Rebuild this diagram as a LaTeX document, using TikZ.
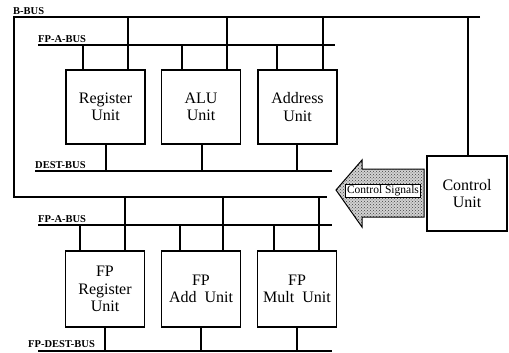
\documentclass[tikz,border=0pt]{standalone}
\usepackage{fontspec}
\setmainfont{Liberation Serif}
\usetikzlibrary{patterns}
\begin{document}
\begin{tikzpicture}[x=1pt,y=-1pt,
  bus/.style={line width=1.8pt},
  wire/.style={line width=1.5pt},
  unit/.style={draw,line width=1.2pt,minimum width=79pt,minimum height=74pt,align=center,inner sep=0pt,font=\fontsize{16}{17.5}\selectfont},
  buslabel/.style={font=\bfseries\fontsize{10.5}{11}\selectfont,anchor=base west,inner sep=0pt}]
\useasboundingbox (0,0) rectangle (509,353);
% units
\node[unit] (reg) at (105.5,107) {Register\\Unit};
\node[unit] (alu) at (201,107) {ALU\\Unit};
\node[unit] (addr) at (297.5,107) {Address\\Unit};
\node[unit,minimum height=76pt] (fpreg) at (105,289) {FP\\Register\\Unit};
\node[unit,minimum height=76pt] (fpadd) at (201,289) {FP\\Add\ \ Unit};
\node[unit,minimum height=76pt] (fpmult) at (297,289) {FP\\Mult\ \ Unit};
\node[unit,minimum width=80pt,minimum height=75pt] (ctrl) at (467,193.5) {Control\\Unit};
% B-BUS loop
\coordinate (bR) at (480,17);
\coordinate (bTL) at (14,17);
\coordinate (bBL) at (14,197);
\coordinate (bBR) at (327,197);
\draw[bus] (bR) -- (bTL) -- (bBL) -- (bBR);
\node[buslabel] (lb) at (13,14.5) {B-BUS};
\foreach \x/\n in {128/reg,227/alu,323/addr,468/ctrl}
  \draw[wire] (\x,17) -- (\x,17 |- \n.north);
\foreach \x/\n in {125/fpreg,223/fpadd,319/fpmult}
  \draw[wire] (\x,197) -- (\x,197 |- \n.north);
% FP-A-BUS (top)
\coordinate (faL) at (38,45);
\coordinate (faR) at (335,45);
\draw[bus] (faL) -- (faR);
\node[buslabel] (lfa) at (38,42.5) {FP-A-BUS};
\foreach \x/\n in {83/reg,182/alu,277/addr}
  \draw[wire] (\x,45) -- (\x,45 |- \n.north);
% DEST-BUS
\coordinate (dL) at (35,171);
\coordinate (dR) at (332,171);
\draw[bus] (dL) -- (dR);
\node[buslabel] (ld) at (35,168.5) {DEST-BUS};
\foreach \x/\n in {106/reg,202/alu,297/addr}
  \draw[wire] (\x,171) -- (\x,171 |- \n.south);
% FP-A-BUS (bottom)
\coordinate (fbL) at (38,225);
\coordinate (fbR) at (332,225);
\draw[bus] (fbL) -- (fbR);
\node[buslabel] (lfb) at (38,222.5) {FP-A-BUS};
\foreach \x/\n in {80/fpreg,180/fpadd,274/fpmult}
  \draw[wire] (\x,225) -- (\x,225 |- \n.north);
% FP-DEST-BUS
\coordinate (fdL) at (38,351);
\coordinate (fdR) at (332,351);
\draw[bus] (fdL) -- (fdR);
\node[buslabel] (lfd) at (28,347.5) {FP-DEST-BUS};
\foreach \x/\n in {105/fpreg,201/fpadd,297/fpmult}
  \draw[wire] (\x,351) -- (\x,351 |- \n.south);
% control signals arrow
\def\arrowpath{(336,190) -- (362,160) -- (362,169) -- (424,169) -- (424,217) -- (362,217) -- (362,227) -- cycle}
\fill[gray!35] \arrowpath;
\fill[pattern=crosshatch dots,pattern color=black!75] \arrowpath;
\draw[line width=1pt,line join=miter] \arrowpath;
\node[draw,fill=white,line width=0.8pt,inner sep=1.2pt,font=\fontsize{11.5}{12}\selectfont] (sig) at (383,190.5) {Control Signals};
\end{tikzpicture}
\end{document}
